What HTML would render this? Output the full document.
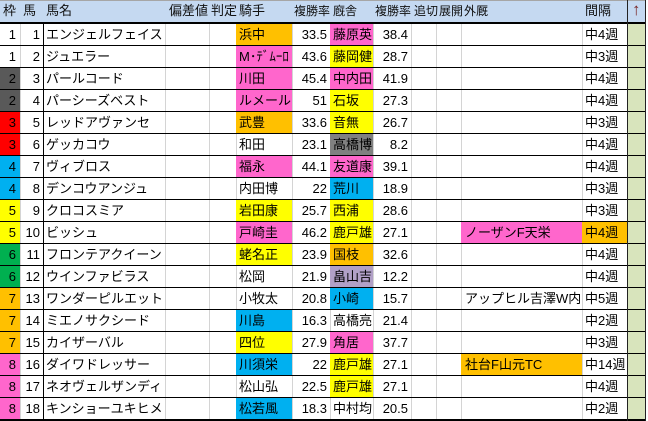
<!DOCTYPE html>
<html><head><meta charset="utf-8">
<style>
html,body{margin:0;padding:0}
body{width:648px;height:421px;overflow:hidden;background:#fff;position:relative;font-family:"Liberation Sans","Noto Sans CJK JP",sans-serif;font-size:13px;color:#000}
.hd{position:absolute;left:0;top:0;width:646px;height:22px;background:#C5D9F1;border-top:1px solid #a6a6a6;box-sizing:border-box}
.hl{position:absolute;top:0;height:21px;line-height:22px;white-space:nowrap;color:#111}
.sm{font-size:12px}
.hb{position:absolute;left:0;top:22px;width:646px;height:2px;background:#000}
.bb{position:absolute;left:0;top:419px;width:646px;height:2px;background:#000}
.v{position:absolute;top:24px;height:395px;width:1px;background:#d4d4d4}
.k{position:absolute;width:1px;background:#000;z-index:5}
.r{position:absolute;left:0;width:646px;height:21px;border-bottom:1px solid #000;z-index:2}
.r span{position:absolute;top:0;height:21px;line-height:21px;white-space:nowrap;box-sizing:border-box}
.c0{left:0;width:20px;text-align:right;padding-right:4px}
.c1{left:20px;width:23px;text-align:right;padding-right:3px}
.c2{left:43px;width:122px;padding-left:3px}
.c5{left:236px;width:56px;padding-left:3px}
.c6{left:292px;width:38px;text-align:right;padding-right:3px}
.c7{left:330px;width:43px;padding-left:3px}
.c8{left:373px;width:38px;text-align:right;padding-right:3px}
.c11{left:461px;width:121px;padding-left:4px}
.c12{left:582px;width:45px;padding-left:3px}
.c13{left:628px;width:17px;background:#D8E4BC}
.o{background:#FFC000}.p{background:#FF66CC}.y{background:#FFFF00}.b{background:#00B0F0}
.g{background:#808080}.l{background:#B1A0C7}.rd{background:#FF0000}.dg{background:#595959}.gr{background:#00B050}
</style></head><body>
<div class="hd"></div>
<span class="hl" style="left:3px">枠</span>
<span class="hl" style="left:23px">馬</span>
<span class="hl" style="left:46px">馬名</span>
<span class="hl" style="left:169px">偏差値</span>
<span class="hl" style="left:211px">判定</span>
<span class="hl" style="left:239px">騎手</span>
<span class="hl sm" style="left:294px">複勝率</span>
<span class="hl sm" style="left:333px">廐舎</span>
<span class="hl sm" style="left:375px">複勝率</span>
<span class="hl sm" style="left:414px">追切</span>
<span class="hl sm" style="left:439px">展開</span>
<span class="hl sm" style="left:464px">外厩</span>
<span class="hl" style="left:585px">間隔</span>
<span class="hl" style="left:632px;top:-1px;font-size:17px;line-height:22px;color:#7a2626;font-family:'Liberation Sans',sans-serif">↑</span>
<div class="hb"></div>

<div class="v" style="left:20px"></div>
<div class="v" style="left:165px"></div>
<div class="v" style="left:209px"></div>
<div class="v" style="left:236px"></div>
<div class="v" style="left:292px"></div>
<div class="v" style="left:330px"></div>
<div class="v" style="left:373px"></div>
<div class="v" style="left:411px"></div>
<div class="v" style="left:436px"></div>
<div class="v" style="left:461px"></div>
<div class="v" style="left:582px"></div>

<div class="r" style="top:24px"><span class="c0">1</span><span class="c1">1</span><span class="c2">エンジェルフェイス</span><span class="c5 o">浜中</span><span class="c6">33.5</span><span class="c7 p">藤原英</span><span class="c8">38.4</span><span class="c12">中4週</span><span class="c13"></span></div>
<div class="r" style="top:46px"><span class="c0">1</span><span class="c1">2</span><span class="c2">ジュエラー</span><span class="c5 p">M･ﾃﾞﾑｰﾛ</span><span class="c6">43.6</span><span class="c7 y">藤岡健</span><span class="c8">28.7</span><span class="c12">中3週</span><span class="c13"></span></div>
<div class="r" style="top:68px"><span class="c0 dg">2</span><span class="c1">3</span><span class="c2">パールコード</span><span class="c5 p">川田</span><span class="c6">45.4</span><span class="c7 p">中内田</span><span class="c8">41.9</span><span class="c12">中4週</span><span class="c13"></span></div>
<div class="r" style="top:90px"><span class="c0 dg">2</span><span class="c1">4</span><span class="c2">パーシーズベスト</span><span class="c5 p">ルメール</span><span class="c6">51</span><span class="c7 y">石坂</span><span class="c8">27.3</span><span class="c12">中4週</span><span class="c13"></span></div>
<div class="r" style="top:112px"><span class="c0 rd">3</span><span class="c1">5</span><span class="c2">レッドアヴァンセ</span><span class="c5 o">武豊</span><span class="c6">33.6</span><span class="c7 y">音無</span><span class="c8">26.7</span><span class="c12">中3週</span><span class="c13"></span></div>
<div class="r" style="top:134px"><span class="c0 rd">3</span><span class="c1">6</span><span class="c2">ゲッカコウ</span><span class="c5">和田</span><span class="c6">23.1</span><span class="c7 g">高橋博</span><span class="c8">8.2</span><span class="c12">中4週</span><span class="c13"></span></div>
<div class="r" style="top:156px"><span class="c0 b">4</span><span class="c1">7</span><span class="c2">ヴィブロス</span><span class="c5 p">福永</span><span class="c6">44.1</span><span class="c7 p">友道康</span><span class="c8">39.1</span><span class="c12">中4週</span><span class="c13"></span></div>
<div class="r" style="top:178px"><span class="c0 b">4</span><span class="c1">8</span><span class="c2">デンコウアンジュ</span><span class="c5">内田博</span><span class="c6">22</span><span class="c7 b">荒川</span><span class="c8">18.9</span><span class="c12">中3週</span><span class="c13"></span></div>
<div class="r" style="top:200px"><span class="c0 y">5</span><span class="c1">9</span><span class="c2">クロコスミア</span><span class="c5 y">岩田康</span><span class="c6">25.7</span><span class="c7 y">西浦</span><span class="c8">28.6</span><span class="c12">中3週</span><span class="c13"></span></div>
<div class="r" style="top:222px"><span class="c0 y">5</span><span class="c1">10</span><span class="c2">ビッシュ</span><span class="c5 p">戸崎圭</span><span class="c6">46.2</span><span class="c7 y">鹿戸雄</span><span class="c8">27.1</span><span class="c11 p">ノーザンF天栄</span><span class="c12 o">中4週</span><span class="c13"></span></div>
<div class="r" style="top:244px"><span class="c0 gr">6</span><span class="c1">11</span><span class="c2">フロンテアクイーン</span><span class="c5 y">蛯名正</span><span class="c6">23.9</span><span class="c7 o">国枝</span><span class="c8">32.6</span><span class="c12">中4週</span><span class="c13"></span></div>
<div class="r" style="top:266px"><span class="c0 gr">6</span><span class="c1">12</span><span class="c2">ウインファビラス</span><span class="c5">松岡</span><span class="c6">21.9</span><span class="c7 l">畠山吉</span><span class="c8">12.2</span><span class="c12">中4週</span><span class="c13"></span></div>
<div class="r" style="top:288px"><span class="c0 o">7</span><span class="c1">13</span><span class="c2">ワンダーピルエット</span><span class="c5">小牧太</span><span class="c6">20.8</span><span class="c7 b">小崎</span><span class="c8">15.7</span><span class="c11">アップヒル吉澤W内</span><span class="c12">中5週</span><span class="c13"></span></div>
<div class="r" style="top:310px"><span class="c0 o">7</span><span class="c1">14</span><span class="c2">ミエノサクシード</span><span class="c5 b">川島</span><span class="c6">16.3</span><span class="c7">高橋亮</span><span class="c8">21.4</span><span class="c12">中2週</span><span class="c13"></span></div>
<div class="r" style="top:332px"><span class="c0 o">7</span><span class="c1">15</span><span class="c2">カイザーバル</span><span class="c5 y">四位</span><span class="c6">27.9</span><span class="c7 p">角居</span><span class="c8">37.7</span><span class="c12">中3週</span><span class="c13"></span></div>
<div class="r" style="top:354px"><span class="c0 p">8</span><span class="c1">16</span><span class="c2">ダイワドレッサー</span><span class="c5 b">川須栄</span><span class="c6">22</span><span class="c7 y">鹿戸雄</span><span class="c8">27.1</span><span class="c11 o">社台F山元TC</span><span class="c12">中14週</span><span class="c13"></span></div>
<div class="r" style="top:376px"><span class="c0 p">8</span><span class="c1">17</span><span class="c2">ネオヴェルザンディ</span><span class="c5">松山弘</span><span class="c6">22.5</span><span class="c7 y">鹿戸雄</span><span class="c8">27.1</span><span class="c12">中4週</span><span class="c13"></span></div>
<div class="r" style="top:398px;border-bottom:none"><span class="c0 p">8</span><span class="c1">18</span><span class="c2">キンショーユキヒメ</span><span class="c5 b">松若風</span><span class="c6">18.3</span><span class="c7">中村均</span><span class="c8">20.5</span><span class="c12">中2週</span><span class="c13"></span></div>
<div class="bb"></div>

<div class="k" style="left:43px;top:24px;height:397px"></div>
<div class="k" style="left:627px;top:0;height:421px;background:#222"></div>
<div class="k" style="left:645px;top:0;height:421px;background:#222"></div>
</body></html>
